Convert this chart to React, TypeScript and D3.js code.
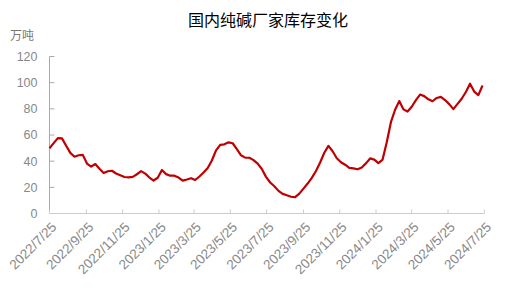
import React from "react";
import * as d3 from "d3";

const title = "国内纯碱厂家库存变化";
const unitLabel = "万吨";
const startDate = "2022-07-25";
const yTicks = [0, 20, 40, 60, 80, 100, 120];
const xTickLabels = [
  "2022/7/25", "2022/9/25", "2022/11/25", "2023/1/25", "2023/3/25", "2023/5/25",
  "2023/7/25", "2023/9/25", "2023/11/25", "2024/1/25", "2024/3/25", "2024/5/25", "2024/7/25",
];
// weekly factory inventory (万吨)
const values = [
  49.9, 53.8, 57.6, 57.4, 51.8, 46.3, 43.4, 44.5, 44.8, 38.2,
  35.8, 37.8, 34.2, 31.0, 32.3, 32.7, 30.6, 29.3, 27.9, 27.6,
  28.0, 30.0, 32.4, 30.5, 27.5, 25.2, 27.3, 33.3, 30.1, 28.9,
  28.9, 27.5, 25.1, 26.0, 27.0, 25.6, 28.3, 31.3, 34.8, 40.5,
  48.3, 52.5, 52.9, 54.4, 53.7, 49.2, 44.5, 42.7, 42.6, 40.8,
  38.1, 34.0, 28.0, 23.7, 20.8, 17.3, 15.0, 13.9, 12.8, 12.5,
  15.2, 19.0, 22.9, 27.2, 32.5, 39.0, 46.4, 51.7, 47.6, 42.2,
  39.2, 37.3, 34.9, 34.5, 33.8, 35.2, 38.3, 42.1, 41.2, 38.5,
  41.2, 54.5, 69.8, 79.3, 85.9, 79.6, 77.9, 81.6, 86.6, 90.9,
  89.7, 87.3, 85.8, 88.3, 89.1, 86.7, 83.6, 79.8, 83.8, 87.7,
  92.9, 99.2, 93.2, 90.5, 97.8,
];

const parse = d3.timeParse("%Y/%m/%d");
const start = d3.timeParse("%Y-%m-%d")(startDate) as Date;
const data = values.map((v, i) => ({ date: d3.timeDay.offset(start, 7 * i), value: v }));
const tickDates = xTickLabels.map((s) => parse(s) as Date);

const W = 522;
const H = 295;
const M = { left: 49.5, right: 522 - 484.3, top: 56.5, bottom: 295 - 213.5 };
const font = "'Liberation Sans', Arial, 'Noto Sans CJK SC', sans-serif";

export default function App() {
  const x = d3
    .scaleTime()
    .domain([tickDates[0], tickDates[tickDates.length - 1]])
    .range([M.left, W - M.right]);
  const y = d3.scaleLinear().domain([0, 120]).range([H - M.bottom, M.top]);
  const line = d3
    .line<{ date: Date; value: number }>()
    .x((d) => x(d.date))
    .y((d) => y(d.value));
  const y0 = y(0);
  return (
    <svg
      width={W}
      height={H}
      style={{ position: "absolute", left: 0, top: 0, background: "#fff" }}
      fontFamily={font}
    >
      <text x={268} y={26} textAnchor="middle" fontSize={16} fill="#000" fontFamily="'Noto Sans CJK SC', sans-serif">
        {title}
      </text>
      <text x={10} y={39.5} fontSize={12} fill="#777" fontFamily="'Noto Sans CJK SC', sans-serif">
        {unitLabel}
      </text>
      {/* y axis */}
      <line x1={M.left} x2={M.left} y1={y(120)} y2={y0} stroke="#aaa" strokeWidth={1} />
      {yTicks.map((t) => (
        <g key={t}>
          {t > 0 && <line x1={M.left} x2={M.left + 5} y1={y(t)} y2={y(t)} stroke="#aaa" />}
          <text x={37.5} y={y(t)} dy="0.35em" textAnchor="end" fontSize={12.5} fill="#888">
            {t}
          </text>
        </g>
      ))}
      {/* x axis */}
      <line x1={M.left} x2={W - M.right} y1={y0} y2={y0} stroke="#ccc" strokeWidth={1} />
      {tickDates.map((d, i) => (
        <g key={i}>
          <line x1={x(d)} x2={x(d)} y1={y0} y2={y0 - 4} stroke="#ccc" />
          <text
            transform={`translate(${x(d) + 4.5},${y0 + 11}) rotate(-45)`}
            textAnchor="end"
            dy="0.35em"
            fontSize={13.5}
            fill="#888"
          >
            {xTickLabels[i]}
          </text>
        </g>
      ))}
      <path d={line(data) || ""} fill="none" stroke="#c00000" strokeWidth={2.2} strokeLinejoin="round" />
    </svg>
  );
}
